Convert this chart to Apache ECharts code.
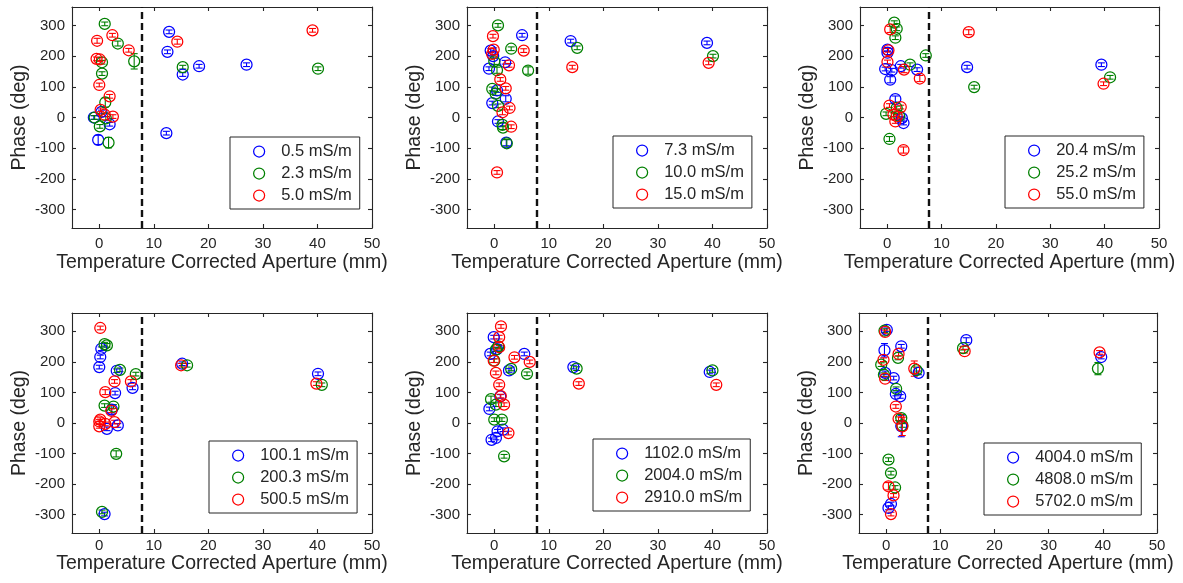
<!DOCTYPE html>
<html>
<head>
<meta charset="utf-8">
<script src="https://cdn.jsdelivr.net/npm/echarts@6/dist/echarts.min.js"></script>
<style>
  html, body { margin: 0; padding: 0; background: #ffffff; }
  #chart { width: 1183px; height: 583px; }
</style>
</head>
<body>
<div id="chart"></div>
<script>
// ---- Axes ----
const xTickValues = [0, 10, 20, 30, 40, 50];
const yTickValues = [-300, -200, -100, 0, 100, 200, 300];
const xRange = [-5, 50];
const yRange = [-360, 360];
const apertureCutoff = 7.7; // mm, dashed reference line
const xAxisTitle = 'Temperature Corrected Aperture (mm)';
const yAxisTitle = 'Phase (deg)';

// ---- Legend labels (fluid conductivity) ----
const labelsA = ['0.5 mS/m', '2.3 mS/m', '5.0 mS/m'];
const labelsB = ['7.3 mS/m', '10.0 mS/m', '15.0 mS/m'];
const labelsC = ['20.4 mS/m', '25.2 mS/m', '55.0 mS/m'];
const labelsD = ['100.1 mS/m', '200.3 mS/m', '500.5 mS/m'];
const labelsE = ['1102.0 mS/m', '2004.0 mS/m', '2910.0 mS/m'];
const labelsF = ['4004.0 mS/m', '4808.0 mS/m', '5702.0 mS/m'];

// ---- Measurements: [aperture (mm), phase (deg), error (deg)] ----
const sigma0_5 = [[12.8,279,6],[12.5,214,6],[15.3,140,6],[18.3,167,6],[27.0,172,6],[12.3,-51,6],[-0.2,-73,15],[0.4,18,6],[1.9,-22,6],[-1.0,0,6]];
const sigma2_3 = [[1.0,305,6],[3.4,241,8],[6.4,183,25],[0.5,180,6],[0.5,143,6],[1.1,49,15],[-0.85,0,6],[1.2,-3,6],[0.1,-29,6],[1.7,-82,17],[15.3,164,6],[40.1,159,6]];
const sigma5_0 = [[2.4,268,6],[-0.4,250,8],[5.4,219,6],[-0.5,191,6],[0.1,189,6],[0.0,106,6],[1.9,69,6],[0.25,25,6],[1.0,9,6],[2.5,3,6],[14.3,247,8],[39.1,284,6]];

const sigma7_3 = [[5.1,268,6],[-0.66,218,6],[-0.2,200,6],[2.0,180,6],[-0.97,159,6],[0.5,88,6],[2.1,61,10],[-0.37,47,6],[0.68,-13,6],[2.2,-82,10],[14.0,249,6],[39.0,243,6]];
const sigma10_0 = [[0.68,300,6],[3.1,224,6],[0.0,183,10],[0.5,154,10],[6.2,153,12],[-0.37,93,6],[0.25,78,6],[0.68,38,6],[1.5,-24,6],[1.6,-33,6],[2.3,-84,12],[15.2,227,6],[40.1,200,6]];
const sigma15_0 = [[-0.24,265,6],[-0.1,221,6],[-0.4,207,6],[5.4,218,6],[2.7,170,6],[1.1,124,6],[2.1,95,6],[2.8,31,6],[1.5,17,8],[3.1,-30,6],[0.5,-179,6],[14.3,164,6],[39.3,178,6]];

const sigma20_4 = [[0.05,221,6],[0.05,211,6],[2.5,167,6],[-0.37,158,6],[0.85,154,6],[5.5,156,6],[0.55,123,10],[1.5,60,10],[2.7,-2,6],[3.0,-18,6],[14.7,164,6],[39.4,172,6]];
const sigma25_2 = [[1.3,309,6],[1.75,289,6],[1.5,260,6],[7.1,202,6],[4.2,172,6],[1.75,31,6],[-0.2,12,6],[2.2,5,6],[0.42,-70,8],[16.0,99,6],[41.0,131,6]];
const sigma55_0 = [[0.55,287,10],[0.24,219,6],[0.05,181,6],[3.1,156,10],[6.0,127,10],[0.42,39,6],[2.5,34,6],[1.15,9,6],[1.75,4,6],[1.5,-13,6],[3.0,-106,10],[15.0,278,8],[39.8,110,6]];

const sigma100_1 = [[0.37,243,6],[0.18,216,6],[0.0,183,6],[3.2,171,6],[6.1,115,6],[2.9,98,6],[2.3,44,15],[1.4,-19,6],[3.4,-8,6],[0.97,-298,6],[15.2,194,6],[40.1,161,6]];
const sigma200_3 = [[0.97,258,6],[1.4,254,6],[3.8,174,6],[6.7,160,6],[0.97,57,6],[2.6,54,6],[3.1,-101,10],[0.5,-291,6],[16.1,189,6],[40.8,125,6]];
const sigma500_5 = [[0.18,311,6],[2.8,136,6],[5.8,136,6],[1.1,101,8],[2.2,40,6],[0.18,11,6],[0.0,5,6],[0.0,-11,6],[1.1,-3,6],[2.8,3,6],[15.0,189,6],[39.8,129,6]];

const sigma1102 = [[-0.1,281,6],[0.5,242,6],[-0.73,226,6],[5.5,226,6],[2.7,172,6],[1.1,87,6],[-0.9,46,6],[0.6,-27,6],[1.6,-22,6],[-0.5,-55,6],[0.3,-49,6],[14.5,183,6],[39.5,167,6]];
const sigma2004 = [[0.73,251,6],[0.3,240,6],[0.0,204,6],[3.1,177,6],[6.0,161,6],[-0.6,78,10],[0.3,60,6],[0.0,11,6],[1.4,11,6],[1.8,-109,6],[15.1,178,6],[40.0,172,6]];
const sigma2910 = [[1.23,316,6],[0.9,281,6],[0.9,248,6],[3.7,215,6],[6.5,200,6],[-0.1,204,6],[0.3,164,6],[0.9,125,6],[1.2,88,6],[1.8,60,6],[2.6,-33,6],[15.5,129,6],[40.7,125,6]];

const sigma4004 = [[0.13,305,6],[2.8,251,6],[-0.3,238,22],[6.0,164,6],[-0.18,164,6],[1.4,147,6],[1.8,95,6],[2.6,87,6],[2.8,-10,35],[0.9,-265,6],[0.44,-278,6],[14.8,271,8],[39.7,216,6]];
const sigma4808 = [[-0.3,302,6],[2.2,213,6],[-0.9,191,6],[5.6,173,10],[-0.4,158,6],[1.85,112,6],[2.8,16,12],[3.0,-8,6],[0.44,-120,6],[0.9,-164,6],[1.66,-211,6],[14.2,245,6],[39.1,178,20]];
const sigma5702 = [[-0.18,298,6],[2.3,226,6],[-0.48,207,6],[5.2,178,25],[-0.18,145,6],[1.8,54,6],[2.3,14,6],[3.0,-11,30],[0.44,-207,12],[1.37,-237,6],[0.9,-298,6],[14.5,235,6],[39.4,231,6]];

// ---- Panel assembly ----
const panelLabels = [labelsA, labelsB, labelsC, labelsD, labelsE, labelsF];
const panelData = [
  [sigma0_5, sigma2_3, sigma5_0],
  [sigma7_3, sigma10_0, sigma15_0],
  [sigma20_4, sigma25_2, sigma55_0],
  [sigma100_1, sigma200_3, sigma500_5],
  [sigma1102, sigma2004, sigma2910],
  [sigma4004, sigma4808, sigma5702]
];

const seriesColors = ['#0000ff', '#008000', '#ff0000'];
const inkColor = '#262626';
const fontFamily = "'Liberation Sans', Arial, sans-serif";

const gridBoxes = [
  { left: 72,  top: 7,   width: 300, height: 221 },
  { left: 467, top: 7,   width: 300, height: 221 },
  { left: 860, top: 7,   width: 299, height: 221 },
  { left: 72,  top: 313, width: 300, height: 220 },
  { left: 467, top: 313, width: 300, height: 220 },
  { left: 859, top: 313, width: 298, height: 220 }
];
const legendSpots = [
  { left: 230, top: 137 },
  { left: 613, top: 136 },
  { left: 1005, top: 136 },
  { left: 209, top: 441 },
  { left: 593, top: 439 },
  { left: 984, top: 443 }
];

// Vertical error bar with short caps, drawn under the circle marker
function renderErrorBar(params, api) {
  const x = api.value(0), y = api.value(1), e = api.value(2);
  const hi = api.coord([x, y + e]);
  const lo = api.coord([x, y - e]);
  const hw = 3.5;
  const style = { stroke: api.visual('color'), lineWidth: 1.1, fill: null };
  return {
    type: 'group',
    children: [
      { type: 'line', shape: { x1: hi[0], y1: hi[1], x2: lo[0], y2: lo[1] }, style },
      { type: 'line', shape: { x1: hi[0] - hw, y1: hi[1], x2: hi[0] + hw, y2: hi[1] }, style },
      { type: 'line', shape: { x1: lo[0] - hw, y1: lo[1], x2: lo[0] + hw, y2: lo[1] }, style }
    ]
  };
}

const axisLineStyle = { color: inkColor, width: 1.1 };
const option = {
  animation: false,
  backgroundColor: '#ffffff',
  grid: gridBoxes.map(g => Object.assign({ containLabel: false }, g)),
  xAxis: [], yAxis: [], series: [], legend: []
};

panelData.forEach((group, i) => {
  const bottomRow = i >= 3;
  const xi = option.xAxis.length;
  const yi = option.yAxis.length;

  option.xAxis.push({
    gridIndex: i, type: 'value', min: xRange[0], max: xRange[1], position: 'bottom',
    axisLine: { show: true, onZero: false, lineStyle: axisLineStyle },
    axisTick: { show: true, inside: true, length: 4, customValues: xTickValues, lineStyle: axisLineStyle },
    axisLabel: { customValues: xTickValues, fontSize: 15, color: inkColor, fontFamily, margin: bottomRow ? 5 : 8 },
    splitLine: { show: false },
    name: xAxisTitle, nameLocation: 'middle', nameGap: bottomRow ? 20 : 25,
    nameTextStyle: { fontSize: 19.5, color: inkColor, fontFamily }
  });
  option.xAxis.push({
    gridIndex: i, type: 'value', min: xRange[0], max: xRange[1], position: 'top',
    axisLine: { show: true, onZero: false, lineStyle: axisLineStyle },
    axisTick: { show: true, inside: true, length: 4, customValues: xTickValues, lineStyle: axisLineStyle },
    axisLabel: { show: false }, splitLine: { show: false }
  });
  option.yAxis.push({
    gridIndex: i, type: 'value', min: yRange[0], max: yRange[1], position: 'left',
    axisLine: { show: true, onZero: false, lineStyle: axisLineStyle },
    axisTick: { show: true, inside: true, length: 4, customValues: yTickValues, lineStyle: axisLineStyle },
    axisLabel: { customValues: yTickValues, fontSize: 15, color: inkColor, fontFamily, margin: 7 },
    splitLine: { show: false },
    name: yAxisTitle, nameLocation: 'middle', nameGap: 42, nameRotate: 90,
    nameTextStyle: { fontSize: 19.5, color: inkColor, fontFamily }
  });
  option.yAxis.push({
    gridIndex: i, type: 'value', min: yRange[0], max: yRange[1], position: 'right',
    axisLine: { show: true, onZero: false, lineStyle: axisLineStyle },
    axisTick: { show: true, inside: true, length: 4, customValues: yTickValues, lineStyle: axisLineStyle },
    axisLabel: { show: false }, splitLine: { show: false }
  });

  group.forEach((points, j) => {
    const name = panelLabels[i][j];
    option.series.push({
      type: 'custom', name, xAxisIndex: xi, yAxisIndex: yi,
      renderItem: renderErrorBar, data: points, encode: { x: 0, y: 1 },
      itemStyle: { color: seriesColors[j] }, z: 2, silent: true
    });
    const scatter = {
      type: 'scatter', name, xAxisIndex: xi, yAxisIndex: yi,
      data: points.map(p => [p[0], p[1]]),
      symbol: 'circle', symbolSize: 11,
      itemStyle: { color: 'rgba(0,0,0,0)', borderColor: seriesColors[j], borderWidth: 1.25, opacity: 1 },
      z: 3, silent: true
    };
    if (j === 0) {
      scatter.markLine = {
        silent: true, symbol: ['none', 'none'], label: { show: false },
        lineStyle: { type: [7, 4], color: '#111111', width: 2.4 },
        data: [{ xAxis: apertureCutoff }]
      };
    }
    option.series.push(scatter);
  });

  option.legend.push({
    left: legendSpots[i].left, top: legendSpots[i].top,
    orient: 'vertical', selectedMode: false,
    itemWidth: 34, itemHeight: 11, itemGap: 5,
    padding: [6, 8, 5, 23],
    borderColor: inkColor, borderWidth: 1, backgroundColor: '#ffffff',
    textStyle: { fontSize: 16.5, color: inkColor, fontFamily, lineHeight: 16 },
    data: panelLabels[i].map((n, j) => ({
      name: n, icon: 'circle',
      itemStyle: { color: 'rgba(0,0,0,0)', borderColor: seriesColors[j], borderWidth: 1.25 }
    }))
  });
});

const chart = echarts.init(document.getElementById('chart'), null, { renderer: 'canvas' });
chart.setOption(option);
</script>
</body>
</html>
